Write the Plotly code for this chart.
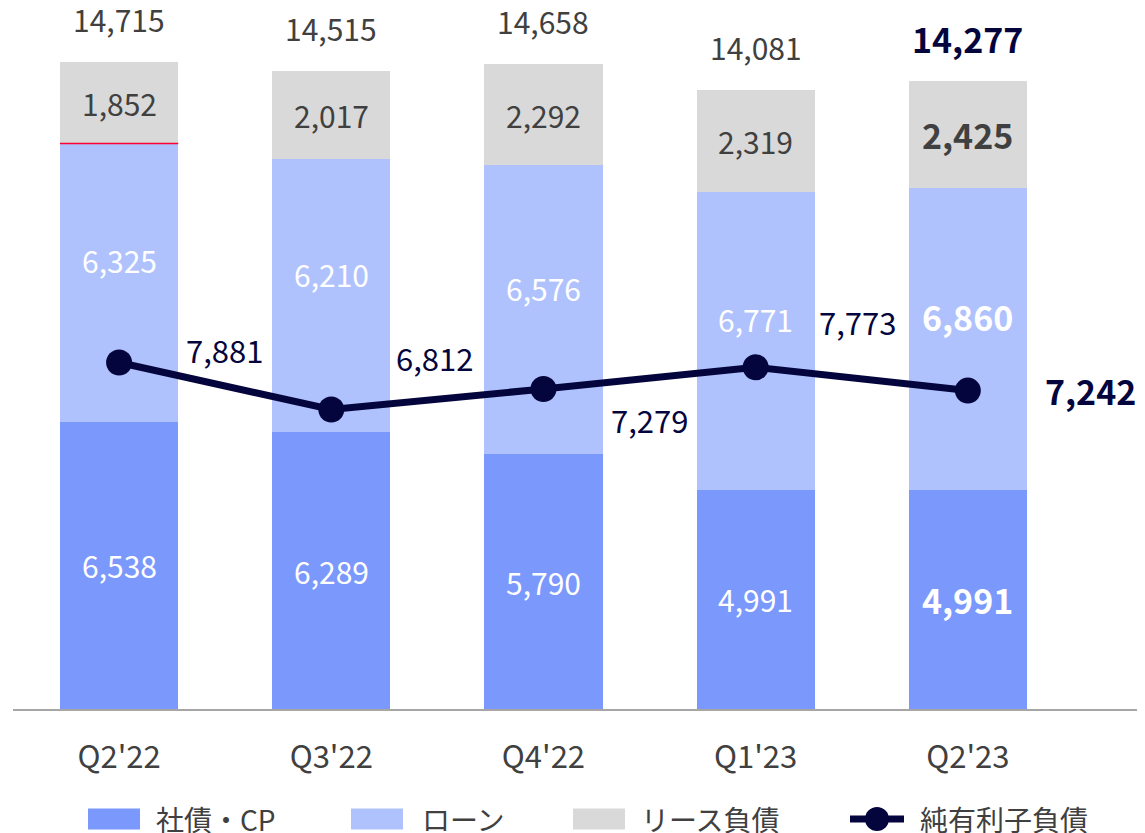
import plotly.graph_objects as go

categories = ["Q2'22", "Q3'22", "Q4'22", "Q1'23", "Q2'23"]
bonds_cp = [6538, 6289, 5790, 4991, 4991]
loans = [6325, 6210, 6576, 6771, 6860]
lease = [1852, 2017, 2292, 2319, 2425]
totals = [14715, 14515, 14658, 14081, 14277]
net_debt = [7881, 6812, 7279, 7773, 7242]
series_names = ["社債・CP", "ローン", "リース負債", "純有利子負債"]

# styles
C_BOND = "#7B98FC"
C_LOAN = "#AFC2FD"
C_LEASE = "#D9D9D9"
C_NAVY = "#05053D"
C_GREY = "#404040"
FONT = "Noto Sans CJK JP"
BAR_W = 0.557
OFF = 8  # page body margin compensation
W, H = 1145 - OFF, 833 - OFF
ML, MT = 13 - OFF, 0
BASE = 709 - OFF
MB = H - BASE
PLOT_H = BASE - MT
VAL_SIZE = 30
BOLD_SIZE = 34
line_label_offsets = [(105, 13), (103, 52), (106, -31), (102, 46), (123, 0)]
LAST = len(categories) - 1


def fmt(v):
    return f"{v:,}"


def wrap(s, i):
    return f"<b>{s}</b>" if i == LAST else s


def fsize(i, base=VAL_SIZE):
    return BOLD_SIZE if i == LAST else base


fig = go.Figure()
fig.add_trace(go.Bar(x=categories, y=bonds_cp, name=series_names[0], marker_color=C_BOND,
                     width=BAR_W, marker_line_width=0, showlegend=False))
fig.add_trace(go.Bar(x=categories, y=loans, name=series_names[1], marker_color=C_LOAN,
                     width=BAR_W, marker_line_width=0, showlegend=False))
fig.add_trace(go.Bar(x=categories, y=lease, name=series_names[2], marker_color=C_LEASE,
                     width=BAR_W, marker_line_width=0, showlegend=False))
fig.add_trace(go.Scatter(x=categories, y=net_debt, name=series_names[3], mode="lines+markers",
                         line=dict(color=C_NAVY, width=7),
                         marker=dict(color=C_NAVY, size=26), showlegend=False, cliponaxis=False))

ann = []
for i, c in enumerate(categories):
    b, l, s = bonds_cp[i], loans[i], lease[i]
    ann.append(dict(x=c, y=b / 2, text=wrap(fmt(b), i), showarrow=False,
                    font=dict(size=fsize(i), color="white", family=FONT)))
    ann.append(dict(x=c, y=b + l / 2, yshift=22, text=wrap(fmt(l), i), showarrow=False,
                    font=dict(size=fsize(i), color="white", family=FONT)))
    ann.append(dict(x=c, y=b + l + s / 2, text=wrap(fmt(s), i), showarrow=False,
                    font=dict(size=fsize(i), color=C_GREY, family=FONT)))
    tcol = C_NAVY if i == LAST else C_GREY
    ann.append(dict(x=c, y=totals[i], yshift=43, text=wrap(fmt(totals[i]), i), showarrow=False,
                    font=dict(size=fsize(i), color=tcol, family=FONT)))
    dx, dy = line_label_offsets[i]
    ann.append(dict(x=c, y=net_debt[i], xshift=dx, yshift=dy, text=wrap(fmt(net_debt[i]), i),
                    showarrow=False, font=dict(size=fsize(i, 31), color=C_NAVY, family=FONT)))


def px(x):
    return (x - OFF - ML) / (W - ML)


def py(y):
    return (BASE - (y - OFF)) / PLOT_H


shapes = []
# thin red boundary on first bar
shapes.append(dict(type="line", xref="x", yref="y", x0=-BAR_W / 2, x1=BAR_W / 2,
                   y0=bonds_cp[0] + loans[0], y1=bonds_cp[0] + loans[0],
                   line=dict(color="#FF0033", width=1.5)))

# custom legend (reference pixel coords)
leg_y = 819
swatches = [(88, 140, C_BOND, 155), (351, 403, C_LOAN, 421), (573, 625, C_LEASE, 640)]
for k, (x0, x1, col, tx) in enumerate(swatches):
    shapes.append(dict(type="rect", xref="paper", yref="paper", x0=px(x0), x1=px(x1),
                       y0=py(leg_y + 10.5), y1=py(leg_y - 10.5), fillcolor=col, line_width=0))
    ann.append(dict(xref="paper", yref="paper", x=px(tx), y=py(leg_y), xanchor="left",
                    yanchor="middle", text=series_names[k], showarrow=False, borderpad=0,
                    font=dict(size=28, color=C_GREY, family=FONT)))
shapes.append(dict(type="line", xref="paper", yref="paper", x0=px(850), x1=px(904),
                   y0=py(leg_y), y1=py(leg_y), line=dict(color=C_NAVY, width=7)))
shapes.append(dict(type="circle", xref="paper", yref="paper", x0=px(865), x1=px(889),
                   y0=py(leg_y + 12), y1=py(leg_y - 12), fillcolor=C_NAVY, line_width=0))
ann.append(dict(xref="paper", yref="paper", x=px(919), y=py(leg_y), xanchor="left",
                yanchor="middle", text=series_names[3], showarrow=False, borderpad=0,
                font=dict(size=28, color=C_GREY, family=FONT)))

fig.update_layout(
    barmode="stack",
    width=W, height=H,
    margin=dict(l=ML, r=0, t=MT, b=MB, autoexpand=False),
    plot_bgcolor="white", paper_bgcolor="white",
    showlegend=False,
    annotations=ann,
    shapes=shapes,
    font=dict(family=FONT, color=C_GREY),
    xaxis=dict(range=[-0.5, 4.835], showline=True, linecolor="#A6A6A6", linewidth=2,
               ticks="", showgrid=False, ticklabelstandoff=20, automargin=False,
               tickfont=dict(size=31, color=C_GREY, family=FONT)),
    yaxis=dict(range=[0, PLOT_H / 0.04397], visible=False, showgrid=False, automargin=False),
)

fig.write_html("out.html")
